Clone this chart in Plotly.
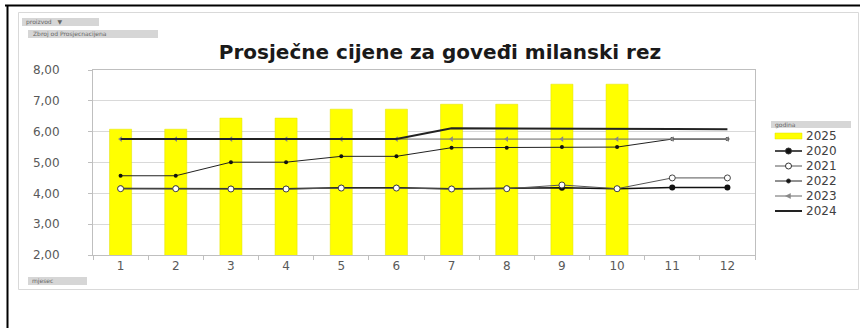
import plotly.graph_objects as go

months = ["1", "2", "3", "4", "5", "6", "7", "8", "9", "10", "11", "12"]
y2025 = [6.08, 6.08, 6.44, 6.44, 6.73, 6.73, 6.89, 6.89, 7.54, 7.54, None, None]
y2020 = [4.16, 4.16, 4.15, 4.15, 4.18, 4.18, 4.15, 4.16, 4.18, 4.15, 4.19, 4.19]
y2021 = [4.15, 4.15, 4.14, 4.14, 4.17, 4.17, 4.14, 4.15, 4.27, 4.15, 4.50, 4.50]
y2022 = [4.57, 4.57, 5.01, 5.01, 5.20, 5.20, 5.48, 5.48, 5.50, 5.50, 5.76, 5.76]
y2023 = [5.76, 5.76, 5.76, 5.76, 5.76, 5.76, 5.76, 5.76, 5.76, 5.76, 5.76, 5.76]
y2024 = [5.76, 5.76, 5.76, 5.76, 5.76, 5.76, 6.11, 6.11, 6.10, 6.10, 6.09, 6.08]
yticks = [2, 3, 4, 5, 6, 7, 8]
ytick_text = ["2,00", "3,00", "4,00", "5,00", "6,00", "7,00", "8,00"]
legend_names = ["2025", "2020", "2021", "2022", "2023", "2024"]

W, H = 860, 328
L, R, T, B = 93, 105, 70, 73
PW, PH = W - L - R, H - T - B


def px(x):
    return (x - L) / PW


def py(y):
    return (H - B - y) / PH


FONT = "DejaVu Sans"
fig = go.Figure()
fig.add_trace(go.Bar(x=months, y=y2025, name="2025", width=0.4,
                     marker=dict(color="#FFFF00", line=dict(color="#E0E000", width=0.5))))
fig.add_trace(go.Scatter(x=months, y=y2020, name="2020", mode="lines+markers",
                         line=dict(color="#111111", width=1.5),
                         marker=dict(symbol="circle", size=6, color="#111111")))
fig.add_trace(go.Scatter(x=months, y=y2021, name="2021", mode="lines+markers",
                         line=dict(color="#555555", width=1),
                         marker=dict(symbol="circle", size=6, color="white",
                                     line=dict(color="#444444", width=1))))
fig.add_trace(go.Scatter(x=months, y=y2022, name="2022", mode="lines+markers",
                         line=dict(color="#222222", width=1),
                         marker=dict(symbol="circle", size=4, color="#111111")))
fig.add_trace(go.Scatter(x=months, y=y2023, name="2023", mode="lines+markers",
                         line=dict(color="#666666", width=1),
                         marker=dict(symbol="triangle-left", size=5, color="#888888")))
fig.add_trace(go.Scatter(x=months, y=y2024, name="2024", mode="lines",
                         line=dict(color="#222222", width=2)))

shapes = []
annotations = []
# outer document frame
shapes.append(dict(type="line", xref="paper", yref="paper", x0=px(5), x1=px(860),
                   y0=py(5.5), y1=py(5.5), line=dict(color="black", width=2)))
shapes.append(dict(type="line", xref="paper", yref="paper", x0=px(7.5), x1=px(7.5),
                   y0=py(5), y1=py(328), line=dict(color="black", width=2)))
# chart box
shapes.append(dict(type="rect", xref="paper", yref="paper", x0=px(18.5), x1=px(858.5),
                   y0=py(12.5), y1=py(289.5), line=dict(color="#D9D9D9", width=1)))
# pivot buttons
for (x0, x1, y0, y1) in [(22, 99, 18, 26), (28, 158, 30, 38), (28, 87, 277, 285), (771, 851, 121, 128)]:
    shapes.append(dict(type="rect", xref="paper", yref="paper", x0=px(x0), x1=px(x1),
                       y0=py(y0), y1=py(y1), line=dict(width=0), fillcolor="#D6D6D6"))
for (txt, x, y) in [("proizvod   ▼", 24, 22), ("Zbroj od Prosjecnacijena", 31, 34),
                    ("mjesec", 30, 281), ("godina", 773, 124.5)]:
    annotations.append(dict(text=txt, xref="paper", yref="paper", x=px(x), y=py(y),
                            xanchor="left", yanchor="middle", showarrow=False,
                            font=dict(family=FONT, size=6, color="#666666")))

# custom legend (compact, Excel-like spacing)
lx0, lx1, ly0, lstep = 775, 802, 136, 15
for i, name in enumerate(legend_names):
    yc = ly0 + i * lstep
    if name == "2025":
        shapes.append(dict(type="rect", xref="paper", yref="paper", x0=px(lx0), x1=px(lx1),
                           y0=py(yc - 3), y1=py(yc + 3), fillcolor="#FFFF00",
                           line=dict(color="#E0E000", width=0.5)))
    else:
        lw = {"2020": 1.5, "2021": 1, "2022": 1, "2023": 1, "2024": 2}[name]
        lc = {"2020": "#111111", "2021": "#555555", "2022": "#222222",
              "2023": "#666666", "2024": "#222222"}[name]
        shapes.append(dict(type="line", xref="paper", yref="paper", x0=px(lx0), x1=px(lx1),
                           y0=py(yc), y1=py(yc), line=dict(color=lc, width=lw)))
        xm = (lx0 + lx1) / 2
        if name in ("2020", "2021", "2022"):
            r = 2 if name == "2022" else 3
            fc = "white" if name == "2021" else "#111111"
            shapes.append(dict(type="circle", xref="paper", yref="paper",
                               x0=px(xm - r), x1=px(xm + r), y0=py(yc - r), y1=py(yc + r),
                               fillcolor=fc, line=dict(color="#333333", width=1)))
        elif name == "2023":
            shapes.append(dict(type="path", xref="paper", yref="paper",
                               path=f"M {px(xm - 3)} {py(yc)} L {px(xm + 2)} {py(yc - 2.5)} L {px(xm + 2)} {py(yc + 2.5)} Z",
                               fillcolor="#888888", line=dict(color="#888888", width=0.5)))
    annotations.append(dict(text=name, xref="paper", yref="paper", x=px(lx1 + 2), y=py(yc),
                            xanchor="left", yanchor="middle", showarrow=False,
                            font=dict(family=FONT, size=12, color="#404040")))

fig.update_layout(
    width=W, height=H,
    margin=dict(l=L, r=R, t=T, b=B, autoexpand=False),
    paper_bgcolor="white", plot_bgcolor="white",
    separators=",.",
    font=dict(family=FONT, color="#595959"),
    title=dict(text="<b>Prosječne cijene za goveđi milanski rez</b>",
               x=px(440), xref="paper", xanchor="center",
               y=1 - 52 / H, yanchor="middle",
               font=dict(family=FONT, size=20, color="#1a1a1a")),
    showlegend=False,
    bargap=0.6,
    shapes=shapes,
    annotations=annotations,
)
fig.update_xaxes(type="category", range=[-0.5, 11.5], showgrid=False, showline=True,
                 linecolor="#BFBFBF", mirror=True, ticks="outside", tickson="boundaries",
                 ticklen=4, tickcolor="#BFBFBF",
                 tickfont=dict(family=FONT, size=12, color="#595959"))
fig.update_yaxes(range=[2, 8], tickvals=yticks, ticktext=ytick_text, showgrid=True,
                 gridcolor="#D9D9D9", showline=True, linecolor="#BFBFBF", mirror=True,
                 ticks="outside", ticklen=4, tickcolor="#BFBFBF",
                 ticklabelstandoff=26, zeroline=False,
                 tickfont=dict(family=FONT, size=12, color="#595959"))

fig.write_html("out.html", config={"displayModeBar": False},
               post_script="document.body.style.margin='0';")
